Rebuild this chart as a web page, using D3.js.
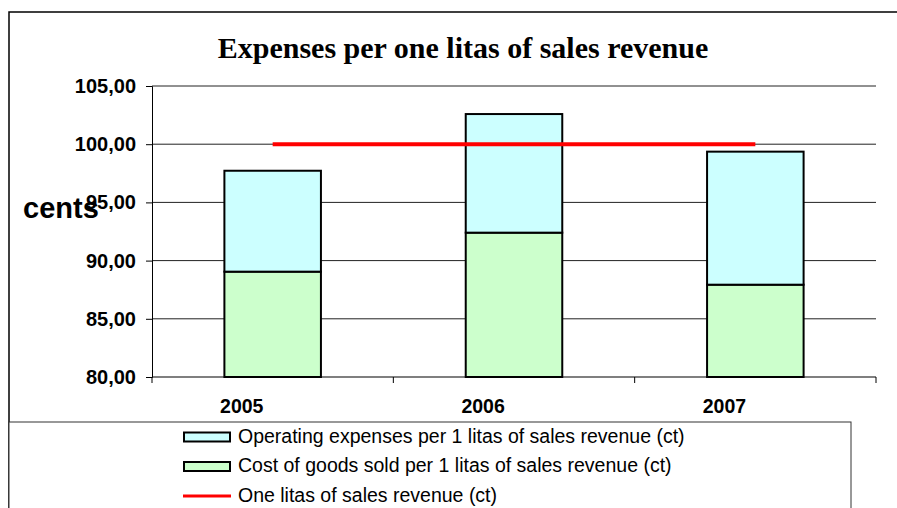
<!DOCTYPE html>
<html>
<head>
<meta charset="utf-8">
<script src="https://cdn.jsdelivr.net/npm/d3@7"></script>
<style>
  html, body { margin: 0; padding: 0; background: #fff; }
  svg { display: block; }
</style>
</head>
<body>
<svg id="chart" width="897" height="508"></svg>
<script>
// Expenses per one litas of sales revenue, cents
const years = ["2005", "2006", "2007"];
const costOfGoods = [89.05, 92.40, 87.93];     // cost of goods sold per 1 litas (ct)
const operating = [8.67, 10.19, 11.43];        // operating expenses per 1 litas (ct)
const revenueLine = [100, 100, 100];           // one litas of sales revenue (ct)
const yTicks = [80, 85, 90, 95, 100, 105];
const seriesNames = [
  "Operating expenses per 1 litas of sales revenue (ct)",
  "Cost of goods sold per 1 litas of sales revenue (ct)",
  "One litas of sales revenue (ct)"
];

const svg = d3.select("#chart");
const sans = "'Liberation Sans', Arial, sans-serif";
const serif = "'Liberation Serif', 'Times New Roman', serif";

const plot = { left: 152, right: 876, top: 86, bottom: 377 };

const x = d3.scaleBand().domain(years)
  .range([plot.left, plot.right])
  .paddingInner(0.6).paddingOuter(0.3);
const xEdge = d3.scalePoint().domain(d3.range(years.length + 1))
  .range([plot.left, plot.right]);
const y = d3.scaleLinear().domain([80, 105]).range([plot.bottom, plot.top]);

// outer chart frame (runs off the right and bottom edges)
svg.append("rect")
  .attr("x", 9).attr("y", 12).attr("width", 900).attr("height", 520)
  .attr("fill", "none").attr("stroke", "#000").attr("stroke-width", 1.5);

// title
svg.append("text")
  .attr("x", 463).attr("y", 58)
  .attr("text-anchor", "middle")
  .attr("font-family", serif).attr("font-weight", "bold").attr("font-size", 30)
  .text("Expenses per one litas of sales revenue");

// horizontal gridlines
svg.append("g").selectAll("line").data(yTicks.slice(1)).join("line")
  .attr("x1", plot.left).attr("x2", plot.right)
  .attr("y1", d => y(d)).attr("y2", d => y(d))
  .attr("stroke", "#222").attr("stroke-width", 1);

// y axis
const yAxis = svg.append("g")
  .attr("transform", `translate(${plot.left},0)`)
  .call(d3.axisLeft(y).tickValues(yTicks).tickSize(6).tickPadding(10)
    .tickFormat(d => d3.format(".2f")(d).replace(".", ",")));
yAxis.select(".domain").attr("stroke", "#000");
yAxis.selectAll(".tick line").attr("stroke", "#000");
yAxis.selectAll(".tick text")
  .attr("font-family", sans).attr("font-weight", "bold").attr("font-size", 20)
  .attr("fill", "#000");

// stacked bars
const bars = svg.append("g");
bars.selectAll("rect.cogs").data(years).join("rect")
  .attr("class", "cogs")
  .attr("x", d => x(d)).attr("width", x.bandwidth())
  .attr("y", (d, i) => y(costOfGoods[i]))
  .attr("height", (d, i) => y(80) - y(costOfGoods[i]))
  .attr("fill", "#CCFFCC").attr("stroke", "#000").attr("stroke-width", 2);
bars.selectAll("rect.opex").data(years).join("rect")
  .attr("class", "opex")
  .attr("x", d => x(d)).attr("width", x.bandwidth())
  .attr("y", (d, i) => y(costOfGoods[i] + operating[i]))
  .attr("height", (d, i) => y(costOfGoods[i]) - y(costOfGoods[i] + operating[i]))
  .attr("fill", "#CCFFFF").attr("stroke", "#000").attr("stroke-width", 2);

// x axis with ticks at category edges
svg.append("line")
  .attr("x1", plot.left).attr("x2", plot.right)
  .attr("y1", plot.bottom).attr("y2", plot.bottom)
  .attr("stroke", "#000").attr("stroke-width", 1.2);
svg.append("g").selectAll("line").data(xEdge.domain()).join("line")
  .attr("x1", d => xEdge(d)).attr("x2", d => xEdge(d))
  .attr("y1", plot.bottom).attr("y2", plot.bottom + 6)
  .attr("stroke", "#000");
// category labels sit a little left of the bar centres
svg.append("g").selectAll("text").data(years).join("text")
  .attr("x", d => x(d) + x.bandwidth() * 0.18).attr("y", 413)
  .attr("text-anchor", "middle")
  .attr("font-family", sans).attr("font-weight", "bold").attr("font-size", 19.5)
  .text(d => d);

// revenue line
const line = d3.line()
  .x((d, i) => x(years[i]) + x.bandwidth() / 2)
  .y(d => y(d));
svg.append("path").datum(revenueLine)
  .attr("d", line)
  .attr("fill", "none").attr("stroke", "#FF0000").attr("stroke-width", 4);

// axis title
svg.append("text")
  .attr("x", 23).attr("y", 218)
  .attr("font-family", sans).attr("font-weight", "bold").attr("font-size", 29)
  .text("cents");

// legend
svg.append("rect")
  .attr("x", 9).attr("y", 422).attr("width", 842).attr("height", 120)
  .attr("fill", "#fff").attr("stroke", "#333").attr("stroke-width", 1);
const legendRows = [
  { name: seriesNames[0], type: "box", fill: "#CCFFFF" },
  { name: seriesNames[1], type: "box", fill: "#CCFFCC" },
  { name: seriesNames[2], type: "line", fill: "#FF0000" }
];
const legendY = d3.scalePoint().domain(d3.range(legendRows.length)).range([437, 496]);
const lg = svg.append("g").selectAll("g").data(legendRows).join("g")
  .attr("transform", (d, i) => `translate(0,${legendY(i)})`);
lg.filter(d => d.type === "box").append("rect")
  .attr("x", 184).attr("y", -4.5).attr("width", 46).attr("height", 9)
  .attr("fill", d => d.fill).attr("stroke", "#000").attr("stroke-width", 2);
lg.filter(d => d.type === "line").append("line")
  .attr("x1", 183).attr("x2", 231).attr("y1", 0).attr("y2", 0)
  .attr("stroke", d => d.fill).attr("stroke-width", 3);
lg.append("text")
  .attr("x", 238).attr("y", 5.5)
  .attr("font-family", sans).attr("font-size", 19.5)
  .text(d => d.name);
</script>
</body>
</html>
